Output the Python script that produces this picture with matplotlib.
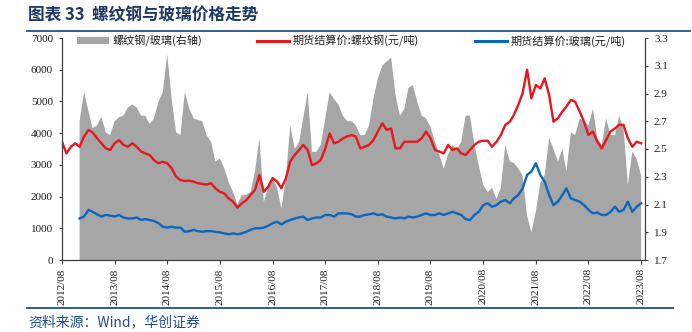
import matplotlib
matplotlib.use('Agg')
import matplotlib.pyplot as plt
import pandas as pd
from matplotlib.patches import Patch
from matplotlib.lines import Line2D
from matplotlib.font_manager import FontProperties

# ---------------- data ----------------
# monthly futures settlement price of rebar, 2012/08 .. 2023/08 (yuan/ton)
rebar = [3730, 3360, 3570, 3680, 3570, 3890, 4100, 4020, 3840, 3680,
         3520, 3470, 3680, 3780, 3630, 3570, 3680, 3570, 3420, 3360,
         3310, 3150, 3050, 3100, 3050, 2890, 2630, 2520, 2490, 2500,
         2470, 2420, 2400, 2380, 2420, 2260, 2150, 2100, 1940, 1840,
         1650, 1790, 1890, 2050, 2210, 2680, 2150, 2310, 2580, 2470,
         2260, 2580, 3100, 3310, 3470, 3630, 3470, 2990, 3050, 3150,
         3520, 3990, 3680, 3730, 3830, 3900, 3940, 3890, 3520, 3570,
         3630, 3780, 4050, 4310, 4100, 4150, 3520, 3520, 3730, 3730,
         3730, 3730, 3840, 4050, 3840, 3470, 3420, 3360, 3630, 3470,
         3520, 3360, 3310, 3470, 3630, 3730, 3760, 3760, 3570, 3730,
         3940, 4260, 4360, 4570, 4890, 5260, 6000, 5100, 5520, 5410,
         5730, 5200, 4360, 4470, 4680, 4840, 5050, 4990, 4680, 4360,
         3940, 4050, 3730, 3520, 3780, 4050, 4150, 4260, 4260, 3840,
         3570, 3730, 3680]

# monthly futures settlement price of glass, 2012/12 .. 2023/08 (yuan/ton)
glass = [1310, 1370, 1580, 1520, 1440, 1370, 1420, 1400, 1370, 1420,
         1340, 1310, 1310, 1340, 1260, 1290, 1260, 1230, 1160, 1050,
         1020, 1050, 1020, 1020, 890, 910, 950, 910, 890, 910,
         910, 890, 870, 840, 810, 840, 810, 840, 890, 950,
         1000, 1000, 1020, 1080, 1160, 1210, 1120, 1210, 1260, 1310,
         1340, 1370, 1260, 1310, 1340, 1340, 1420, 1420, 1370, 1470,
         1470, 1470, 1440, 1370, 1370, 1420, 1440, 1470, 1420, 1440,
         1370, 1340, 1310, 1340, 1310, 1370, 1340, 1370, 1420, 1470,
         1420, 1420, 1470, 1420, 1470, 1520, 1470, 1420, 1290, 1260,
         1420, 1520, 1730, 1790, 1680, 1730, 1840, 1890, 1790, 1940,
         2050, 2260, 2680, 2790, 3050, 2680, 2470, 2050, 1730, 1840,
         2050, 2260, 1940, 1890, 1840, 1730, 1580, 1470, 1500, 1420,
         1420, 1520, 1680, 1520, 1580, 1840, 1520, 1680, 1790]

# rebar / glass ratio (right axis), 2012/12 .. 2023/08
ratio = [2.70, 2.91, 2.77, 2.65, 2.67, 2.73, 2.62, 2.60, 2.70, 2.73,
         2.74, 2.80, 2.82, 2.80, 2.74, 2.74, 2.68, 2.72, 2.84, 2.91,
         3.18, 2.86, 2.62, 2.60, 2.91, 2.79, 2.72, 2.71, 2.70, 2.60,
         2.55, 2.41, 2.43, 2.36, 2.26, 2.19, 2.10, 2.17, 2.17, 2.19,
         2.34, 2.58, 2.12, 2.22, 2.29, 2.22, 2.07, 2.29, 2.67, 2.50,
         2.55, 2.72, 2.91, 2.48, 2.48, 2.53, 2.72, 2.91, 2.86, 2.82,
         2.74, 2.70, 2.70, 2.67, 2.60, 2.60, 2.67, 2.86, 3.01, 3.10,
         3.13, 3.16, 2.89, 2.74, 2.79, 2.94, 2.96, 2.84, 2.74, 2.72,
         2.66, 2.55, 2.46, 2.36, 2.46, 2.53, 2.50, 2.55, 2.74, 2.74,
         2.53, 2.38, 2.24, 2.19, 2.22, 2.14, 2.22, 2.53, 2.41, 2.40,
         2.36, 2.31, 2.02, 1.90, 2.05, 2.26, 2.31, 2.58, 2.50, 2.41,
         2.50, 2.34, 2.62, 2.60, 2.72, 2.70, 2.67, 2.79, 2.58, 2.53,
         2.72, 2.60, 2.60, 2.74, 2.65, 2.24, 2.48, 2.43, 2.31]

x_tick_labels = ['2012/08', '2013/08', '2014/08', '2015/08', '2016/08', '2017/08',
                 '2018/08', '2019/08', '2020/08', '2021/08', '2022/08', '2023/08']
left_ticks = [0, 1000, 2000, 3000, 4000, 5000, 6000, 7000]
right_ticks = [1.7, 1.9, 2.1, 2.3, 2.5, 2.7, 2.9, 3.1, 3.3]

legend_labels = ['螺纹钢/玻璃(右轴)', '期货结算价:螺纹钢(元/吨)', '期货结算价:玻璃(元/吨)']
title = '图表 33  螺纹钢与玻璃价格走势'
source = '资料来源：Wind，华创证券'

# ---------------- drawing ----------------
plt.rcParams['font.family'] = ['Liberation Serif', 'DejaVu Serif']

rebar_dates = pd.date_range('2012-08-01', periods=len(rebar), freq='MS')
glass_dates = pd.date_range('2012-12-01', periods=len(glass), freq='MS')
tick_dates = pd.to_datetime([t.replace('/', '-') + '-01' for t in x_tick_labels])

W, H = 692, 332
fig = plt.figure(figsize=(W / 100, H / 100), dpi=100)
ax1 = fig.add_axes([62 / W, 1 - 260 / H, (645 - 62) / W, (260 - 38) / H])
ax2 = ax1.twinx()
ax1.set_zorder(ax2.get_zorder() + 1)
ax1.patch.set_visible(False)

GRAY = '#A6A6A6'
RED = '#E8161E'
BLUE = '#0A66BE'

ax2.fill_between(glass_dates, ratio, 0, color=GRAY, lw=0)
ax1.plot(rebar_dates, rebar, color=RED, lw=1.7, solid_joinstyle='round')
ax1.plot(glass_dates, glass, color=BLUE, lw=1.7, solid_joinstyle='round')

ax1.set_xlim(pd.Timestamp('2012-08-01'), pd.Timestamp('2023-08-28'))
ax1.set_ylim(left_ticks[0], left_ticks[-1])
ax2.set_ylim(right_ticks[0], right_ticks[-1])

ax1.set_xticks(tick_dates)
ax1.set_xticklabels(x_tick_labels, rotation=90)
ax1.set_yticks(left_ticks)
ax1.set_yticklabels([str(v) for v in left_ticks])
ax2.set_yticks(right_ticks)
ax2.set_yticklabels([f'{v:.1f}' for v in right_ticks])

SPINE = '#404040'
for a in (ax1, ax2):
    a.spines['top'].set_visible(False)
    for s in a.spines.values():
        s.set_color(SPINE)
        s.set_linewidth(0.9)
ax1.spines['right'].set_visible(False)
ax2.spines['left'].set_visible(False)
ax2.spines['bottom'].set_visible(False)

ax1.tick_params(axis='x', direction='out', length=3, width=0.8, color=SPINE,
                labelsize=8, pad=3, labelcolor='#202020')
ax1.tick_params(axis='y', direction='out', length=2.5, width=0.8, color=SPINE,
                labelsize=8, pad=4, labelcolor='#202020')
ax2.tick_params(axis='y', direction='out', length=2.5, width=0.8, color=SPINE,
                labelsize=8, pad=4, labelcolor='#202020')

fp = FontProperties(family=['Noto Sans CJK SC', 'DejaVu Sans'], size=8)
handles = [Patch(facecolor=GRAY, edgecolor='none'),
           Line2D([], [], color=RED, lw=2.2),
           Line2D([], [], color=BLUE, lw=2.2)]
anchors = [77, 257, 475]
for h, lab, xa in zip(handles, legend_labels, anchors):
    leg = fig.legend([h], [lab], loc='center left',
                     bbox_to_anchor=(xa / W, 1 - 41 / H), frameon=False,
                     borderpad=0, borderaxespad=0, handlelength=2.9,
                     handleheight=0.65, handletextpad=0.3, prop=fp)
    for t in leg.get_texts():
        t.set_color('#202020')

NAVY = '#1F3864'
LINEBLUE = '#1F4E8C'
fig.text(28 / W, 1 - 15 / H, title, fontsize=12, fontweight='bold', color=NAVY,
         family=['Noto Sans CJK SC', 'DejaVu Sans'], va='center', ha='left')
fig.add_artist(Line2D([27 / W, 690 / W], [1 - 31 / H] * 2, color=LINEBLUE, lw=1.3))
fig.add_artist(Line2D([27 / W, 673 / W], [1 - 308 / H] * 2, color=LINEBLUE, lw=1.3))
fig.text(28 / W, 1 - 322 / H, source, fontsize=10, color=LINEBLUE, style='italic',
         family=['Noto Sans CJK SC', 'DejaVu Sans'], va='center', ha='left')

fig.savefig('out.png', dpi=100)
